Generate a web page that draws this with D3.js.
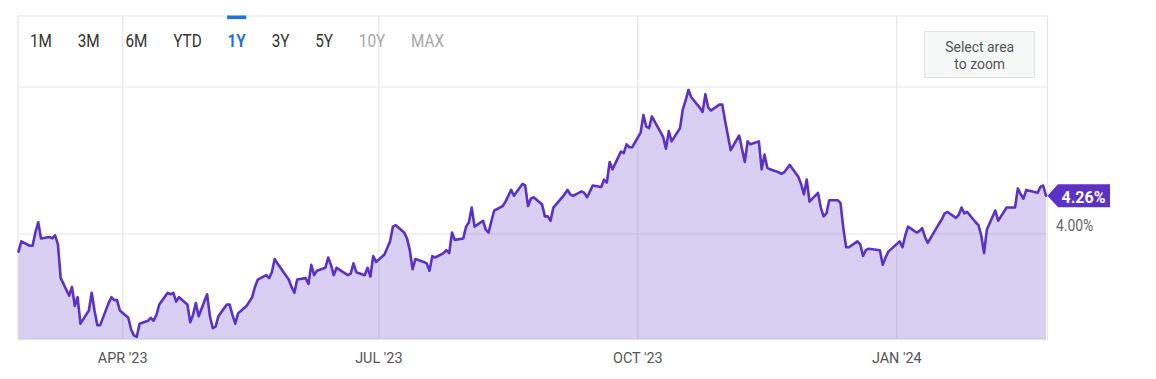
<!DOCTYPE html>
<html><head><meta charset="utf-8">
<script src="https://cdn.jsdelivr.net/npm/d3@7/dist/d3.min.js"></script>
<style>
html,body{margin:0;padding:0;background:#fff}
svg{display:block;font-family:Roboto,"Noto Sans",sans-serif}
</style>
</head><body>
<svg id="chart" width="1156" height="379"></svg>
<script>
// ---- data ----
const dates = [
"2023-02-23","2023-02-24","2023-02-27","2023-02-28","2023-03-01","2023-03-02","2023-03-03","2023-03-06","2023-03-07","2023-03-08",
"2023-03-09","2023-03-10","2023-03-13","2023-03-14","2023-03-15","2023-03-16","2023-03-17","2023-03-20","2023-03-21","2023-03-22",
"2023-03-23","2023-03-24","2023-03-27","2023-03-28","2023-03-29","2023-03-30","2023-03-31","2023-04-03","2023-04-04","2023-04-05",
"2023-04-06","2023-04-07","2023-04-10","2023-04-11","2023-04-12","2023-04-13","2023-04-14","2023-04-17","2023-04-18","2023-04-19",
"2023-04-20","2023-04-21","2023-04-24","2023-04-25","2023-04-26","2023-04-27","2023-04-28","2023-05-01","2023-05-02","2023-05-03",
"2023-05-04","2023-05-05","2023-05-08","2023-05-09","2023-05-10","2023-05-11","2023-05-12","2023-05-15","2023-05-16","2023-05-17",
"2023-05-18","2023-05-19","2023-05-22","2023-05-23","2023-05-24","2023-05-25","2023-05-26","2023-05-30","2023-05-31","2023-06-01",
"2023-06-02","2023-06-05","2023-06-06","2023-06-07","2023-06-08","2023-06-09","2023-06-12","2023-06-13","2023-06-14","2023-06-15",
"2023-06-16","2023-06-20","2023-06-21","2023-06-22","2023-06-23","2023-06-26","2023-06-27","2023-06-28","2023-06-29","2023-06-30",
"2023-07-03","2023-07-05","2023-07-06","2023-07-07","2023-07-10","2023-07-11","2023-07-12","2023-07-13","2023-07-14","2023-07-17",
"2023-07-18","2023-07-19","2023-07-20","2023-07-21","2023-07-24","2023-07-25","2023-07-26","2023-07-27","2023-07-28","2023-07-31",
"2023-08-01","2023-08-02","2023-08-03","2023-08-04","2023-08-07","2023-08-08","2023-08-09","2023-08-10","2023-08-11","2023-08-14",
"2023-08-15","2023-08-16","2023-08-17","2023-08-18","2023-08-21","2023-08-22","2023-08-23","2023-08-24","2023-08-25","2023-08-28",
"2023-08-29","2023-08-30","2023-08-31","2023-09-01","2023-09-05","2023-09-06","2023-09-07","2023-09-08","2023-09-11","2023-09-12",
"2023-09-13","2023-09-14","2023-09-15","2023-09-18","2023-09-19","2023-09-20","2023-09-21","2023-09-22","2023-09-25","2023-09-26",
"2023-09-27","2023-09-28","2023-09-29","2023-10-02","2023-10-03","2023-10-04","2023-10-05","2023-10-06","2023-10-10","2023-10-11",
"2023-10-12","2023-10-13","2023-10-16","2023-10-17","2023-10-18","2023-10-19","2023-10-20","2023-10-23","2023-10-24","2023-10-25",
"2023-10-26","2023-10-27","2023-10-30","2023-10-31","2023-11-01","2023-11-02","2023-11-03","2023-11-06","2023-11-07","2023-11-08",
"2023-11-09","2023-11-10","2023-11-13","2023-11-14","2023-11-15","2023-11-16","2023-11-17","2023-11-20","2023-11-21","2023-11-22",
"2023-11-24","2023-11-27","2023-11-28","2023-11-29","2023-11-30","2023-12-01","2023-12-04","2023-12-05","2023-12-06","2023-12-07",
"2023-12-08","2023-12-11","2023-12-12","2023-12-13","2023-12-14","2023-12-15","2023-12-18","2023-12-19","2023-12-20","2023-12-21",
"2023-12-22","2023-12-26","2023-12-27","2023-12-28","2023-12-29","2024-01-02","2024-01-03","2024-01-04","2024-01-05","2024-01-08",
"2024-01-09","2024-01-10","2024-01-11","2024-01-12","2024-01-16","2024-01-17","2024-01-18","2024-01-19","2024-01-22","2024-01-23",
"2024-01-24","2024-01-25","2024-01-26","2024-01-29","2024-01-30","2024-01-31","2024-02-01","2024-02-02","2024-02-05","2024-02-06",
"2024-02-07","2024-02-08","2024-02-09","2024-02-12","2024-02-13","2024-02-14","2024-02-15","2024-02-16","2024-02-20","2024-02-21",
"2024-02-22","2024-02-23"
];
const yields = [
3.88,3.95,3.92,3.92,4.01,4.08,3.97,3.98,3.97,3.99,
3.93,3.70,3.58,3.64,3.51,3.57,3.39,3.48,3.60,3.48,
3.38,3.38,3.53,3.57,3.55,3.55,3.48,3.43,3.35,3.31,
3.30,3.39,3.41,3.43,3.41,3.45,3.52,3.60,3.59,3.60,
3.54,3.57,3.52,3.40,3.45,3.53,3.44,3.59,3.44,3.36,
3.37,3.44,3.52,3.52,3.45,3.39,3.46,3.51,3.54,3.57,
3.64,3.69,3.72,3.70,3.74,3.83,3.80,3.69,3.64,3.60,
3.69,3.70,3.66,3.79,3.72,3.75,3.77,3.84,3.79,3.72,
3.77,3.72,3.73,3.80,3.74,3.72,3.77,3.71,3.85,3.81,
3.86,3.95,4.05,4.06,4.01,3.97,3.89,3.76,3.83,3.81,
3.80,3.75,3.85,3.84,3.87,3.89,3.87,4.01,3.96,3.97,
4.05,4.08,4.18,4.05,4.09,4.03,4.01,4.09,4.16,4.19,
4.22,4.26,4.30,4.26,4.34,4.33,4.19,4.24,4.25,4.20,
4.12,4.12,4.09,4.18,4.27,4.30,4.27,4.26,4.29,4.28,
4.25,4.29,4.33,4.32,4.37,4.35,4.49,4.44,4.56,4.55,
4.61,4.59,4.59,4.69,4.81,4.73,4.72,4.80,4.66,4.58,
4.70,4.63,4.72,4.85,4.91,4.98,4.93,4.86,4.83,4.95,
4.86,4.84,4.88,4.88,4.77,4.67,4.57,4.67,4.58,4.49,
4.63,4.61,4.63,4.44,4.54,4.45,4.44,4.42,4.41,4.42,
4.47,4.39,4.34,4.27,4.37,4.22,4.28,4.18,4.12,4.14,
4.23,4.23,4.21,4.04,3.91,3.91,3.95,3.93,3.85,3.89,
3.90,3.89,3.79,3.84,3.88,3.95,3.91,3.99,4.05,4.01,
4.02,4.04,3.98,3.94,4.07,4.10,4.14,4.15,4.11,4.13,
4.18,4.14,4.15,4.08,4.06,3.99,3.87,4.03,4.16,4.09,
4.12,4.15,4.18,4.18,4.31,4.27,4.24,4.30,4.28,4.32,
4.33,4.26
];
const yGridValues = [4, 5];
const yTickLabels = ["4.00%"];
const xTickDates = ["2023-04-01","2023-07-01","2023-10-01","2024-01-01"];
const xTickLabels = ["APR '23","JUL '23","OCT '23","JAN '24"];
const rangeButtons = ["1M","3M","6M","YTD","1Y","3Y","5Y","10Y","MAX"];
const activeButton = "1Y";
const disabledButtons = ["10Y","MAX"];
const zoomLines = ["Select area","to zoom"];
const domainStart = "2023-02-23", domainEnd = "2024-02-23";

// ---- layout ----
const parse = d3.timeParse("%Y-%m-%d");
const data = dates.map((d,i)=>({date:parse(d), value:yields[i]}));
const L = 18, R = 1047.5, T = 16, B = 339;
const purple = "#5b31c6";
const grid = "#e6e6e6";

const svg = d3.select("#chart");
const x = d3.scaleTime().domain([parse(domainStart), parse(domainEnd)]).range([18.5, 1046]);
const y = d3.scaleLinear().domain([4, 5]).range([234, 87]);

// gridlines
const g = svg.append("g");
g.selectAll("line.h").data(yGridValues).join("line")
  .attr("x1", L).attr("x2", R).attr("y1", d=>y(d)).attr("y2", d=>y(d))
  .attr("stroke", grid).attr("stroke-width", 1.2);
g.selectAll("line.v").data(xTickDates).join("line")
  .attr("x1", d=>x(parse(d))).attr("x2", d=>x(parse(d))).attr("y1", T).attr("y2", B)
  .attr("stroke", grid).attr("stroke-width", 1.2);
// frame
g.append("line").attr("x1",L).attr("x2",R).attr("y1",T).attr("y2",T).attr("stroke",grid).attr("stroke-width",1.2);
g.append("line").attr("x1",L).attr("x2",L).attr("y1",T).attr("y2",B).attr("stroke",grid).attr("stroke-width",1.2);
g.append("line").attr("x1",R).attr("x2",R).attr("y1",T).attr("y2",B).attr("stroke",grid).attr("stroke-width",1.2);
g.append("line").attr("x1",L).attr("x2",R).attr("y1",B+0.5).attr("y2",B+0.5).attr("stroke","#e3e3e3").attr("stroke-width",1.5);

// area + line
const area = d3.area().x(d=>x(d.date)).y0(B).y1(d=>y(d.value));
const line = d3.line().x(d=>x(d.date)).y(d=>y(d.value));
svg.append("path").datum(data).attr("d", area).attr("fill", purple).attr("fill-opacity", 0.235);
svg.append("path").datum(data).attr("d", line).attr("fill","none").attr("stroke", purple)
  .attr("stroke-width", 2.6).attr("stroke-linejoin","round").attr("stroke-linecap","round");

// x axis labels
svg.selectAll("text.xl").data(xTickDates).join("text")
  .attr("transform", d=>`translate(${x(parse(d))},363) scale(0.93,1)`)
  .attr("text-anchor","middle").attr("font-size","15.5px").attr("fill","#555")
  .text((d,i)=>xTickLabels[i]);

// y label
svg.append("text").attr("transform",`translate(1056,231) scale(0.87,1)`)
  .attr("font-size","16px").attr("fill","#666").text(yTickLabels[0]);

// last value tag
const last = data[data.length-1];
const ly = y(last.value);
const tipX = 1047.5, bx = 1058, bw = 52, bh = 23;
svg.append("path")
  .attr("d", `M${tipX},${ly} L${bx},${ly-bh/2} L${bx+bw},${ly-bh/2} L${bx+bw},${ly+bh/2} L${bx},${ly+bh/2} Z`)
  .attr("fill", purple);
svg.append("text").attr("transform",`translate(${bx+25.5},${ly+7.3}) scale(0.94,1)`)
  .attr("text-anchor","middle").attr("font-size","17px").attr("font-weight","bold")
  .attr("fill","#fff").text(last.value.toFixed(2)+"%");

// range selector
const sx = 0.85;
let cx = 30;
const btnG = svg.append("g");
rangeButtons.forEach(b=>{
  const t = btnG.append("text").attr("font-size","18px")
    .attr("font-weight", b===activeButton ? "bold" : "normal")
    .attr("fill", b===activeButton ? "#1f74d2" : (disabledButtons.includes(b) ? "#a6a6a6" : "#333"))
    .text(b);
  const w = t.node().getComputedTextLength()*sx;
  t.attr("transform", `translate(${cx},46.5) scale(${sx},1)`);
  if (b===activeButton) {
    btnG.append("rect").attr("x", cx-0.5).attr("y", 15.5).attr("width", w+1).attr("height", 3.6).attr("fill","#1f74d2");
  }
  cx += w + 25.8;
});

// select area to zoom box
svg.append("rect").attr("x",924.5).attr("y",31.5).attr("width",110).attr("height",46)
  .attr("fill","#f6f7f7").attr("stroke","#e2e2e2").attr("stroke-width",1);
zoomLines.forEach((s,i)=>{
  svg.append("text").attr("transform",`translate(979.7,${52.3+i*17}) scale(0.93,1)`)
    .attr("text-anchor","middle").attr("font-size","15px").attr("fill","#555").text(s);
});
</script>
</body></html>
